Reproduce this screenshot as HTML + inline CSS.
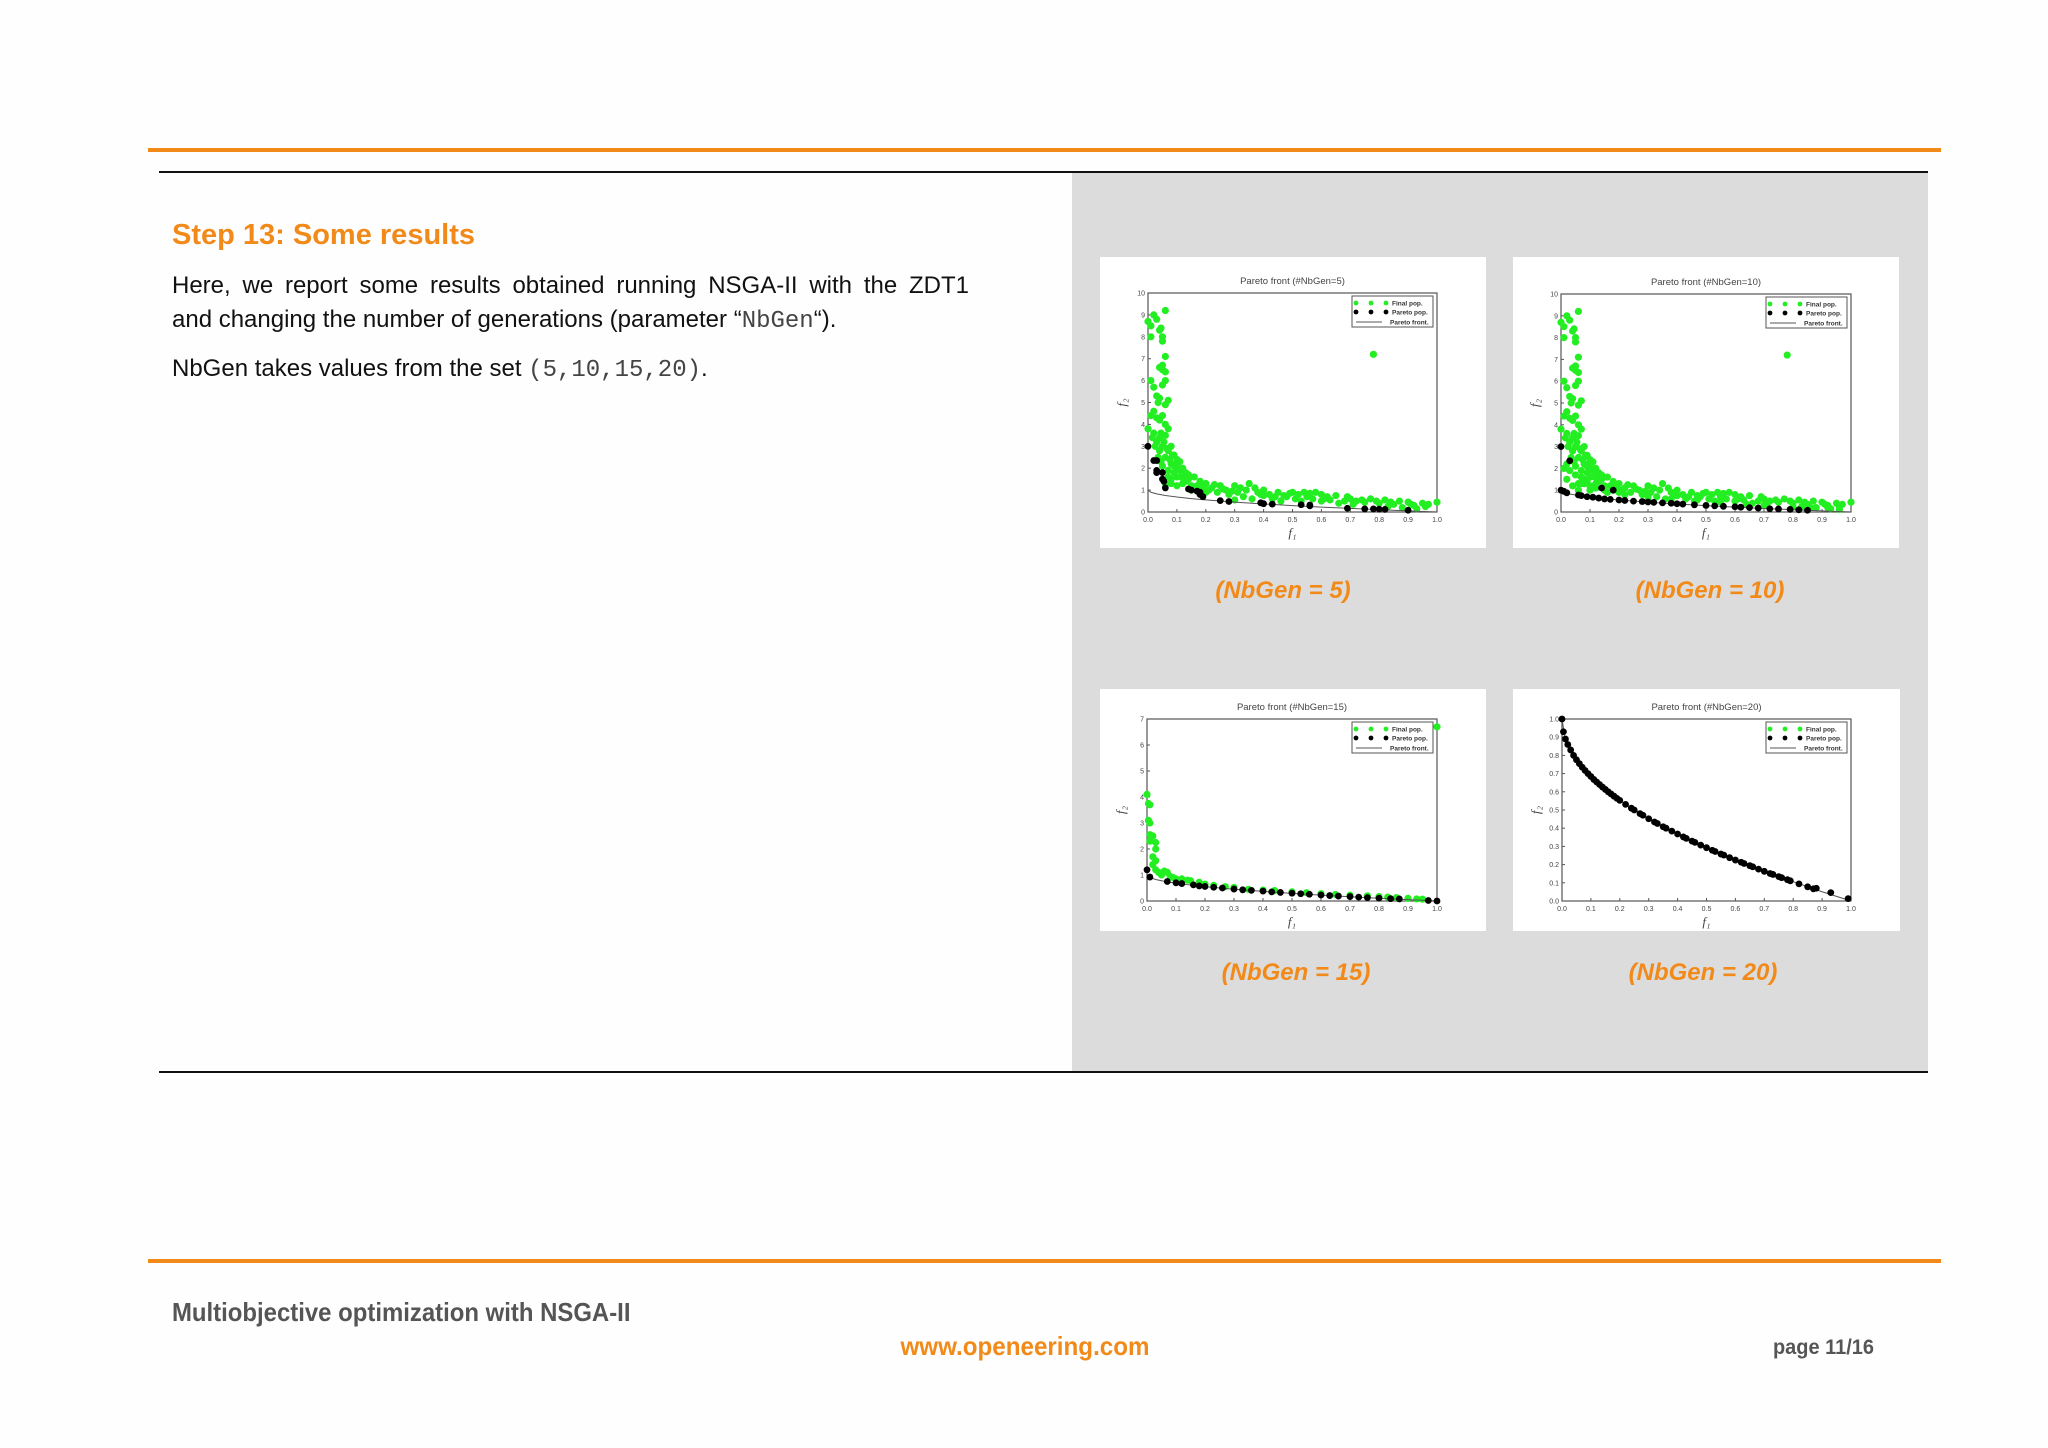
<!DOCTYPE html>
<html><head><meta charset="utf-8"><style>
body{margin:0;width:2048px;height:1448px;background:#fefefe;position:relative;overflow:hidden;font-family:"Liberation Sans",sans-serif}
.abs{position:absolute}
.cap{position:absolute;color:#f28a1a;font-weight:bold;font-style:italic;font-size:24px;transform:translateX(-50%);white-space:nowrap}
.mono{font-family:"Liberation Mono",monospace;color:#444}
.jl{display:block;text-align:justify;text-align-last:justify}
</style></head><body>
<div class="abs" style="left:148px;top:148px;width:1793px;height:4px;background:#f28a1a"></div>
<div class="abs" style="left:159px;top:171px;width:1769px;height:2px;background:#111"></div>
<div class="abs" style="left:1072px;top:173px;width:856px;height:898px;background:#dddcdd"></div>
<div class="abs" style="left:159px;top:1071px;width:1769px;height:2px;background:#111"></div>
<div class="abs" style="left:148px;top:1259px;width:1793px;height:4px;background:#f28a1a"></div>

<div class="abs" style="left:172px;top:219px;font-size:29px;font-weight:bold;color:#f28a1a">Step 13: Some results</div>
<div class="abs" style="left:172px;top:269px;width:797px;font-size:24px;line-height:34px;color:#111"><span class="jl">Here, we report some results obtained running NSGA-II with the ZDT1</span>and changing the number of generations (parameter “<span class="mono">NbGen</span>“).</div>
<div class="abs" style="left:172px;top:355px;font-size:24px;color:#111">NbGen takes values from the set <span class="mono">(5,10,15,20)</span>.</div>

<svg class="abs" style="left:0;top:0" width="2048" height="1448" id="svg"></svg>

<div class="cap" style="left:1283px;top:577px">(NbGen = 5)</div>
<div class="cap" style="left:1710px;top:577px">(NbGen = 10)</div>
<div class="cap" style="left:1296px;top:959px">(NbGen = 15)</div>
<div class="cap" style="left:1703px;top:959px">(NbGen = 20)</div>

<div class="abs" style="left:172px;top:1297px;font-size:26px;font-weight:bold;color:#555;transform:scaleX(0.92);transform-origin:left">Multiobjective optimization with NSGA-II</div>
<div class="abs" style="left:1025px;top:1331px;font-size:26px;font-weight:bold;color:#f28a1a;transform:translateX(-50%) scaleX(0.93)">www.openeering.com</div>
<div class="abs" style="left:1773px;top:1336px;font-size:21px;font-weight:bold;color:#555;transform:scaleX(0.95);transform-origin:left">page 11/16</div>

<script>
const xTicks=["0.0","0.1","0.2","0.3","0.4","0.5","0.6","0.7","0.8","0.9","1.0"];
const front=[[0,1],[0.01,0.9],[0.03,0.827],[0.06,0.755],[0.1,0.684],[0.15,0.613],[0.2,0.553],[0.3,0.452],[0.4,0.368],[0.5,0.293],[0.6,0.225],[0.7,0.163],[0.8,0.106],[0.9,0.051],[1,0]];
const green1=[[0,8.7],[0.01,8.5],[0.01,8.0],[0.02,9.0],[0.03,8.8],[0.04,8.3],[0.045,8.4],[0.05,8.0],[0.05,7.8],[0.06,9.2],[0.06,7.1],[0.05,6.7],[0.04,6.6],[0.05,6.5],[0.06,6.4],[0.01,6.0],[0.06,6.0],[0.05,5.8],[0.02,5.7],[0.03,5.3],[0.04,5.2],[0.035,5.0],[0.06,4.9],[0.07,5.1],[0.01,4.4],[0.02,4.6],[0.03,4.3],[0.04,4.2],[0.05,4.4],[0,3.8],[0.06,4.0],[0.07,3.8],[0.02,3.6],[0.04,3.4],[0.03,3.2],[0.06,3.5],[0.08,3.0],[0.05,3.0],[0.07,2.8],[0.09,2.6],[0.04,2.8],[0.06,2.5],[0.1,2.4],[0.08,2.2],[0.11,2.3],[0.12,2.0],[0.05,2.1],[0.07,1.9],[0.09,1.8],[0.13,1.8],[0.1,1.6],[0.14,1.5],[0.16,1.6],[0.12,1.3],[0.15,1.2],[0.18,1.4],[0.2,1.3],[0.1,1.2],[0.22,1.1],[0.25,1.2],[0.27,1.0],[0.3,1.2],[0.32,1.1],[0.34,1.0],[0.35,1.3],[0.38,0.9],[0.4,1.0],[0.42,0.8],[0.45,0.9],[0.48,0.7],[0.5,0.9],[0.52,0.8],[0.55,0.7],[0.57,0.6],[0.6,0.8],[0.62,0.7],[0.65,0.75],[0.68,0.5],[0.7,0.6],[0.72,0.5],[0.75,0.45],[0.77,0.6],[0.78,7.2],[0.8,0.4],[0.82,0.55],[0.85,0.35],[0.87,0.5],[0.9,0.45],[0.92,0.3],[0.95,0.4],[1.0,0.45],[0.24,0.9],[0.28,0.8],[0.33,0.7],[0.36,0.6],[0.43,0.6],[0.46,0.5],[0.53,0.5],[0.6,0.5],[0.3,0.55],[0.18,1.0],[0.2,0.9],[0.15,1.0],[0.26,1.05],[0.4,0.75],[0.58,0.9],[0.66,0.4],[0.71,0.35],[0.83,0.25],[0.88,0.2],[0.93,0.15],[0.97,0.35],[0.08,1.5],[0.11,1.9],[0.13,1.4],[0.09,2.1],[0.14,1.7],[0.17,1.2],[0.21,1.0],[0.23,1.25],[0.29,0.95],[0.37,1.1],[0.44,0.7],[0.49,0.85],[0.51,0.6],[0.56,0.85],[0.63,0.55],[0.74,0.55],[0.015,3.4],[0.025,3.0],[0.045,3.6],[0.055,3.2],[0.065,2.9],[0.035,2.5],[0.045,2.3],[0.075,2.4],[0.085,2.6],[0.095,2.2],[0.105,2.0],[0.115,1.6],[0.07,1.6],[0.06,1.3],[0.125,1.5],[0.08,1.3],[0.19,1.15],[0.31,0.9],[0.39,0.8],[0.47,0.75],[0.54,0.9],[0.61,0.6],[0.69,0.7],[0.79,0.5],[0.84,0.45],[0.91,0.35],[0.96,0.25]];
const black1=[[0,3.0],[0.02,2.35],[0.03,2.35],[0.03,1.9],[0.03,1.8],[0.05,1.8],[0.05,1.5],[0.055,1.4],[0.06,1.1],[0.14,1.05],[0.15,1.0],[0.17,0.95],[0.18,0.9],[0.18,0.8],[0.19,0.7],[0.25,0.52],[0.28,0.48],[0.39,0.42],[0.4,0.38],[0.43,0.36],[0.53,0.33],[0.56,0.32],[0.56,0.28],[0.69,0.17],[0.75,0.14],[0.78,0.14],[0.8,0.13],[0.82,0.12],[0.9,0.08]];
const green2=green1.concat([[0.02,1.5],[0.04,1.2],[0.06,1.0],[0.1,1.0],[0.16,0.9],[0.22,0.8],[0.3,0.7],[0.38,0.6],[0.47,0.55],[0.55,0.45],[0.64,0.35],[0.7,0.3],[0.8,0.25],[0.86,0.2],[0.92,0.2],[0.96,0.12],[0.01,2.0],[0.02,2.2],[0.03,1.9],[0.05,1.7],[0.07,1.3],[0.09,1.4],[0.12,1.1]]);
const black2=[[0,3.0],[0.03,2.35],[0,1.0],[0.01,0.95],[0.02,0.88],[0.06,0.78],[0.07,0.75],[0.09,0.7],[0.11,0.68],[0.13,0.64],[0.15,0.6],[0.17,0.58],[0.2,0.55],[0.22,0.53],[0.25,0.5],[0.28,0.48],[0.3,0.46],[0.32,0.44],[0.35,0.42],[0.38,0.4],[0.4,0.38],[0.42,0.36],[0.46,0.33],[0.5,0.3],[0.53,0.28],[0.56,0.26],[0.6,0.24],[0.62,0.22],[0.65,0.2],[0.68,0.18],[0.72,0.15],[0.75,0.14],[0.79,0.12],[0.82,0.1],[0.85,0.08],[0.14,1.1],[0.18,1.0]];
const green3=[[0,4.1],[0.005,3.75],[0.01,3.7],[0.005,3.1],[0.01,3.0],[0.01,2.55],[0.02,2.5],[0.01,2.3],[0.03,2.25],[0.03,2.0],[0.02,1.7],[0.03,1.55],[0.02,1.4],[0.03,1.2],[0.04,1.1],[0.05,1.0],[0.06,1.15],[0.07,1.1],[0.08,0.95],[0.09,0.9],[0.1,0.85],[0.12,0.85],[0.14,0.8],[0.15,0.78],[0.18,0.72],[0.2,0.65],[0.23,0.6],[0.27,0.55],[0.3,0.52],[0.35,0.45],[0.4,0.42],[0.44,0.4],[0.5,0.35],[0.55,0.32],[0.6,0.28],[0.65,0.25],[0.7,0.22],[0.76,0.2],[0.8,0.17],[0.83,0.15],[0.86,0.13],[0.9,0.1],[0.93,0.08],[0.95,0.07],[1.0,6.7]];
const black3=[[0,1.2],[0.01,0.92],[0.07,0.75],[0.1,0.7],[0.12,0.67],[0.16,0.62],[0.18,0.58],[0.2,0.56],[0.23,0.53],[0.26,0.5],[0.3,0.46],[0.33,0.43],[0.36,0.41],[0.4,0.38],[0.43,0.35],[0.46,0.33],[0.5,0.3],[0.53,0.28],[0.56,0.26],[0.6,0.23],[0.63,0.21],[0.66,0.19],[0.7,0.17],[0.73,0.15],[0.76,0.13],[0.8,0.11],[0.84,0.09],[0.87,0.08],[0.97,0.02],[1.0,0.0]];
const black4=[[0,1],[0.005,0.93],[0.012,0.89],[0.02,0.86],[0.03,0.83],[0.04,0.8],[0.05,0.776],[0.06,0.755],[0.07,0.735],[0.08,0.717],[0.09,0.7],[0.1,0.684],[0.11,0.668],[0.12,0.654],[0.13,0.64],[0.14,0.626],[0.15,0.613],[0.16,0.6],[0.17,0.588],[0.18,0.576],[0.19,0.564],[0.2,0.553],[0.22,0.531],[0.24,0.51],[0.25,0.5],[0.27,0.48],[0.28,0.471],[0.3,0.452],[0.32,0.434],[0.33,0.426],[0.35,0.408],[0.36,0.4],[0.38,0.384],[0.4,0.368],[0.42,0.352],[0.43,0.344],[0.45,0.329],[0.46,0.322],[0.48,0.307],[0.5,0.293],[0.52,0.279],[0.53,0.272],[0.55,0.258],[0.56,0.252],[0.58,0.238],[0.6,0.225],[0.62,0.213],[0.63,0.206],[0.65,0.194],[0.66,0.188],[0.68,0.175],[0.7,0.163],[0.72,0.151],[0.73,0.146],[0.75,0.134],[0.76,0.128],[0.78,0.117],[0.79,0.111],[0.82,0.094],[0.85,0.078],[0.87,0.067],[0.88,0.07],[0.93,0.046],[0.99,0.013]];
const yTicks10=["0","1","2","3","4","5","6","7","8","9","10"];
const yTicks7=["0","1","2","3","4","5","6","7"];
const yTicksUnit=["0.0","0.1","0.2","0.3","0.4","0.5","0.6","0.7","0.8","0.9","1.0"];
const titles=["Pareto front (#NbGen=5)","Pareto front (#NbGen=10)","Pareto front (#NbGen=15)","Pareto front (#NbGen=20)"];

const NS="http://www.w3.org/2000/svg";
const svg=document.getElementById('svg');
function mk(tag,attrs,parent){const e=document.createElementNS(NS,tag);for(const k in attrs)e.setAttribute(k,attrs[k]);(parent||svg).appendChild(e);return e;}
function chart(idx,panel,plot,ymax,yt,green,black){
  const g=mk('g',{});
  
  
  const bg=mk('rect',{x:panel[0],y:panel[1],width:panel[2]-panel[0],height:panel[3]-panel[1],fill:'#fff'},g);
  
  
  const [x0,y0,x1,y1]=plot;
  const sx=v=>x0+v*(x1-x0), sy=v=>y1-v/ymax*(y1-y0);
  const fr=mk('rect',{x:x0,y:y0,width:x1-x0,height:y1-y0,fill:'none',stroke:'#555','stroke-width':1.2},g);
  
  
  const t=mk('text',{x:(x0+x1)/2,y:y0-9,'text-anchor':'middle','font-size':9.5,fill:'#444','font-family':'Liberation Sans'},g);
  t.textContent=titles[idx];
  
  
  xTicks.forEach((lab,i)=>{const v=i/10;const x=sx(v);
    mk('line',{x1:x,x2:x,y1:y1,y2:y1-3,stroke:'#555'},g);
    const tx=mk('text',{x:x,y:y1+10,'text-anchor':'middle','font-size':7,fill:'#444','font-family':'Liberation Sans'},g);
    tx.textContent=lab;
    
    });
  yt.forEach((lab,i)=>{const v=ymax*i/(yt.length-1);const y=sy(v);
    mk('line',{x1:x0,x2:x0+3,y1:y,y2:y,stroke:'#555'},g);
    const ty=mk('text',{x:x0-3,y:y+2.5,'text-anchor':'end','font-size':7,fill:'#444','font-family':'Liberation Sans'},g);
    ty.textContent=lab;
    
    });
  const xl=mk('text',{x:(x0+x1)/2,y:y1+25,'text-anchor':'middle','font-size':13,'font-style':'italic',fill:'#444','font-family':'Liberation Serif'},g);
  xl.textContent='f₁';
  
  
  const yl=mk('text',{x:x0-22,y:(y0+y1)/2,'text-anchor':'middle','font-size':13,'font-style':'italic',fill:'#444','font-family':'Liberation Serif',transform:`rotate(-90 ${x0-22} ${(y0+y1)/2})`},g);
  yl.textContent='f₂';
  
  
  green.forEach(p=>{const c=mk('circle',{cx:sx(p[0]),cy:sy(p[1]),r:3.6,fill:'#22ee22'},g);
    
    });
  const ln=mk('polyline',{points:front.map(p=>sx(p[0])+','+sy(p[1])).join(' '),fill:'none',stroke:'#555','stroke-width':1},g);
  
  
  black.forEach(p=>{const c=mk('circle',{cx:sx(p[0]),cy:sy(p[1]),r:3.4,fill:'#000'},g);
    
    });
  const lx=x1-85,ly=y0+3;
  const lg=mk('g',{},g);
  
  
  mk('rect',{x:lx,y:ly,width:81,height:31,fill:'#fff',stroke:'#555','stroke-width':1},lg);
  [[0,'#22ee22','Final pop.'],[1,'#000','Pareto pop.']].forEach(([i,col,lab])=>{const yy=ly+7+i*9;
    [4,19,34].forEach(dx=>mk('circle',{cx:lx+dx,cy:yy,r:2.4,fill:col},lg));
    const tt=mk('text',{x:lx+40,y:yy+2.5,'font-size':6.5,'font-weight':'bold',fill:'#333','font-family':'Liberation Sans'},lg);
    tt.textContent=lab;
    
    });
  mk('line',{x1:lx+4,x2:lx+30,y1:ly+26,y2:ly+26,stroke:'#555'},lg);
  const tt=mk('text',{x:lx+38,y:ly+28.5,'font-size':6.5,'font-weight':'bold',fill:'#333','font-family':'Liberation Sans'},lg);
  tt.textContent='Pareto front.';
  
  
}
chart(0,[1100,257,1486,548],[1148,293,1437,512],10,yTicks10,green1,black1);
chart(1,[1513,257,1899,548],[1561,294,1851,512],10,yTicks10,green2,black2);
chart(2,[1100,689,1486,931],[1147,719,1437,901],7,yTicks7,green3,black3);
chart(3,[1513,689,1900,931],[1562,719,1851,901],1,yTicksUnit,[],black4);
</script>
</body></html>
